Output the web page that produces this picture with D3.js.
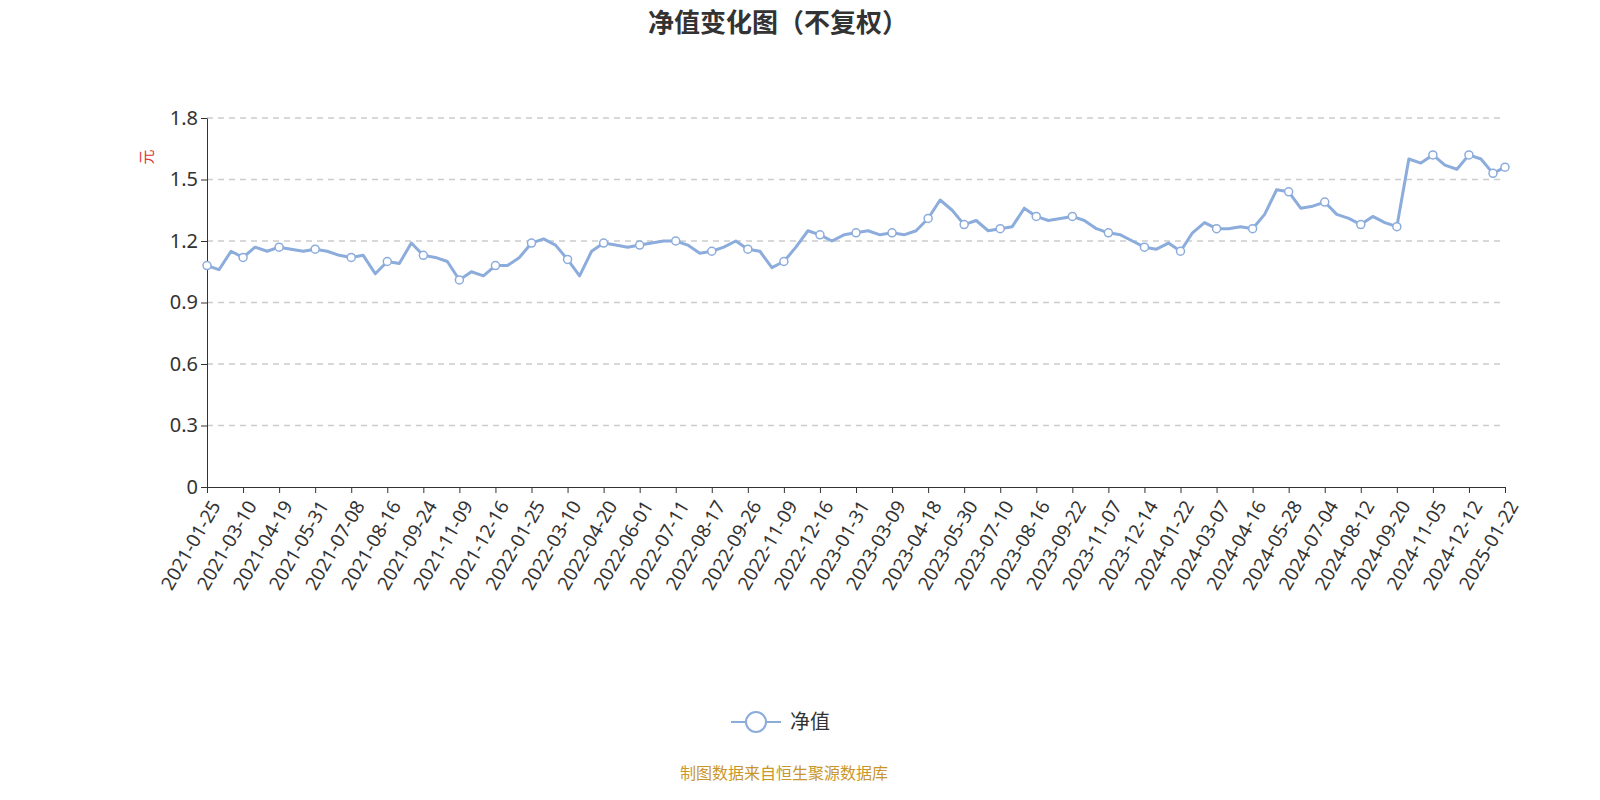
<!DOCTYPE html>
<html><head><meta charset="utf-8">
<script src="https://cdn.jsdelivr.net/npm/d3@7"></script>
<style>html,body{margin:0;background:#fff;overflow:hidden;font-family:"Noto Sans CJK SC","Noto Sans",sans-serif;} svg{display:block;}</style>
</head><body>
<script>
// tick labels (one every third point)
var tickLabels = ["2021-01-25","2021-03-10","2021-04-19","2021-05-31","2021-07-08","2021-08-16","2021-09-24","2021-11-09","2021-12-16",
	"2022-01-25","2022-03-10","2022-04-20","2022-06-01","2022-07-11","2022-08-17","2022-09-26","2022-11-09","2022-12-16",
	"2023-01-31","2023-03-09","2023-04-18","2023-05-30","2023-07-10","2023-08-16","2023-09-22","2023-11-07","2023-12-14",
	"2024-01-22","2024-03-07","2024-04-16","2024-05-28","2024-07-04","2024-08-12","2024-09-20","2024-11-05","2024-12-12",
	"2025-01-22"];
var nav = [1.08,1.06,1.15, 1.12,1.17,1.15, 1.17,1.16,1.15, 1.16,1.15,1.13, 1.12,1.13,1.04, 1.10,1.09,1.19,
	1.13,1.12,1.10, 1.01,1.05,1.03, 1.08,1.08,1.12, 1.19,1.21,1.18, 1.11,1.03,1.15, 1.19,1.18,1.17,
	1.18,1.19,1.20, 1.20,1.18,1.14, 1.15,1.17,1.20, 1.16,1.15,1.07, 1.10,1.17,1.25, 1.23,1.20,1.23,
	1.24,1.25,1.23, 1.24,1.23,1.25, 1.31,1.40,1.35, 1.28,1.30,1.25, 1.26,1.27,1.36, 1.32,1.30,1.31,
	1.32,1.30,1.26, 1.24,1.23,1.20, 1.17,1.16,1.19, 1.15,1.24,1.29, 1.26,1.26,1.27, 1.26,1.33,1.45,
	1.44,1.36,1.37, 1.39,1.33,1.31, 1.28,1.32,1.29, 1.27,1.60,1.58, 1.62,1.57,1.55, 1.62,1.60,1.53,
	1.56];
var yTicks = [0,0.3,0.6,0.9,1.2,1.5,1.8];

var width = 1600, height = 800;
var plotLeft = 207, plotRight = 1505, plotTop = 118, plotBottom = 487;
var lineColor = "#8cacdc";

var svg = d3.select("body").append("svg").attr("width", width).attr("height", height);

var x = d3.scaleLinear().domain([0, nav.length - 1]).range([plotLeft, plotRight]);
var y = d3.scaleLinear().domain([0, 1.8]).range([plotBottom, plotTop]);

svg.append("text").attr("x", 778).attr("y", 32).attr("text-anchor", "middle")
	.attr("font-size", "26px").attr("font-weight", "bold").attr("fill", "#333")
	.text("净值变化图（不复权）");

// grid
svg.selectAll("line.grid").data(yTicks.slice(1)).enter().append("line")
	.attr("x1", plotLeft).attr("x2", plotRight)
	.attr("y1", function(d) { return y(d); }).attr("y2", function(d) { return y(d); })
	.attr("stroke", "#ccc").attr("stroke-dasharray", "6,5").attr("stroke-width", 1.5);

var yAxis = svg.append("g").attr("transform", "translate(" + plotLeft + ",0)")
	.call(d3.axisLeft(y).tickValues(yTicks).tickFormat(function(d) { return d === 0 ? "0" : d3.format(".1f")(d); }).tickSize(6).tickSizeOuter(0));
yAxis.selectAll("text").attr("font-size", "20px").attr("fill", "#333").attr("font-family", "Noto Sans");
yAxis.select(".domain").attr("stroke", "#333");
yAxis.selectAll(".tick line").attr("stroke", "#333");

var tickIdx = tickLabels.map(function(d, i) { return i * 3; });
var xAxis = svg.append("g").attr("transform", "translate(0," + plotBottom + ")")
	.call(d3.axisBottom(x).tickValues(tickIdx).tickFormat(function(d) { return tickLabels[d / 3]; }).tickSize(6).tickSizeOuter(0));
xAxis.select(".domain").attr("stroke", "#333");
xAxis.selectAll(".tick line").attr("stroke", "#333");
xAxis.selectAll("text").attr("font-size", "19px").attr("fill", "#333").attr("font-family", "Noto Sans")
	.attr("text-anchor", "end").attr("dx", "0").attr("dy", "0")
	.attr("transform", "translate(6,14) rotate(-60)");

svg.append("text").attr("transform", "translate(152,157) rotate(-90)").attr("text-anchor", "middle")
	.attr("font-size", "15px").attr("fill", "#e03030").text("元");

var line = d3.line().x(function(d, i) { return x(i); }).y(function(d) { return y(d); });
svg.append("path").datum(nav).attr("d", line).attr("fill", "none")
	.attr("stroke", lineColor).attr("stroke-width", 3).attr("stroke-linejoin", "round");

var markIdx = tickIdx.concat([nav.length - 2]);
svg.selectAll("circle.m").data(markIdx).enter().append("circle")
	.attr("cx", function(d) { return x(d); }).attr("cy", function(d) { return y(nav[d]); })
	.attr("r", 4).attr("fill", "#fff").attr("stroke", lineColor).attr("stroke-width", 1.5);

// legend
svg.append("line").attr("x1", 731).attr("x2", 781).attr("y1", 722).attr("y2", 722).attr("stroke", lineColor).attr("stroke-width", 2);
svg.append("circle").attr("cx", 756).attr("cy", 722).attr("r", 10).attr("fill", "#fff").attr("stroke", lineColor).attr("stroke-width", 2);
svg.append("text").attr("x", 790).attr("y", 729).attr("font-size", "20px").attr("fill", "#333").text("净值");

svg.append("text").attr("x", 784).attr("y", 779).attr("text-anchor", "middle")
	.attr("font-size", "16px").attr("fill", "#c8962b").text("制图数据来自恒生聚源数据库");
</script>
</body></html>
